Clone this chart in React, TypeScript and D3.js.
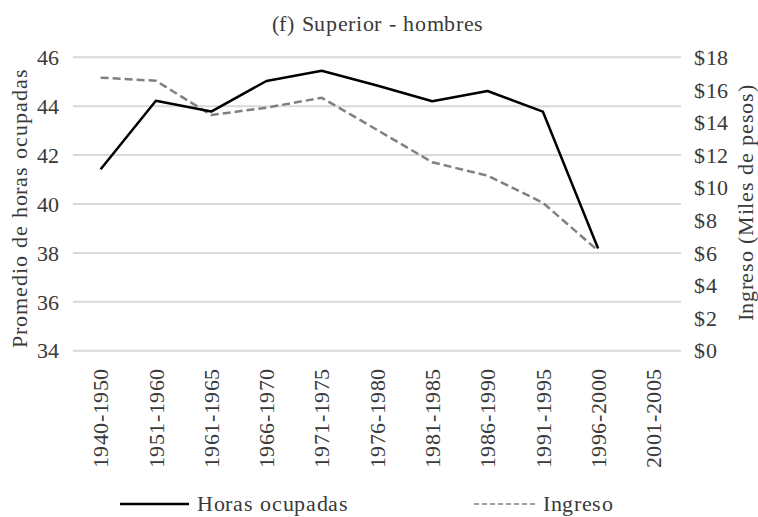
import React from "react";
import * as d3 from "d3";

const categories = [
  "1940-1950", "1951-1960", "1961-1965", "1966-1970", "1971-1975", "1976-1980",
  "1981-1985", "1986-1990", "1991-1995", "1996-2000", "2001-2005",
];
const horas: (number | null)[] = [41.42, 44.22, 43.78, 45.03, 45.45, 44.85, 44.2, 44.62, 43.78, 38.18, null];
const ingreso: (number | null)[] = [16.75, 16.56, 14.46, 14.91, 15.52, 13.55, 11.56, 10.74, 9.08, 6.13, null];
const leftTicks = [34, 36, 38, 40, 42, 44, 46];
const rightTicks = [0, 2, 4, 6, 8, 10, 12, 14, 16, 18];
const title = "(f) Superior - hombres";
const leftTitle = "Promedio de horas ocupadas";
const rightTitle = "Ingreso (Miles de pesos)";
const seriesNames = ["Horas ocupadas", "Ingreso"];

const W = 758;
const H = 517;
const FONT = "RefSerif, 'Liberation Serif', 'DejaVu Serif', 'Times New Roman', serif";
const TXT = "#3a3a3a";
const FS = 22;
const ts: React.CSSProperties = { fontFamily: FONT, fontSize: FS, fill: TXT, letterSpacing: 0.6 };

const fontCss = `@font-face { font-family: RefSerif; src: local("Liberation Serif"), local("LiberationSerif"), local("LiberationSerif-Regular"), local("DejaVu Serif"), local("DejaVuSerif"), local("Noto Serif"), local("NotoSerif-Regular"); }`;

export default function App() {
  const x = d3.scaleBand<string>().domain(categories).range([73, 681]);
  const yL = d3.scaleLinear().domain([34, 46]).range([350.7, 57.3]);
  const yR = d3.scaleLinear().domain([0, 18]).range([350.7, 57.3]);
  const cx = (c: string) => (x(c) ?? 0) + x.bandwidth() / 2;

  const lineL = d3
    .line<number | null>()
    .defined((d) => d != null)
    .x((_, i) => cx(categories[i]))
    .y((d) => yL(d as number));
  const lineR = d3
    .line<number | null>()
    .defined((d) => d != null)
    .x((_, i) => cx(categories[i]))
    .y((d) => yR(d as number));

  return (
    <svg
      width={W}
      height={H}
      style={{ position: "absolute", left: 0, top: 0, background: "#fff" }}
    >
      <style>{fontCss}</style>
      <text x={378} y={31} textAnchor="middle" style={{ ...ts, letterSpacing: 0.7 }}>
        {title}
      </text>
      {leftTicks.map((t) => (
        <g key={"l" + t}>
          <line x1={73} x2={681} y1={yL(t)} y2={yL(t)} stroke="#d9d9d9" strokeWidth={2} />
          <text x={60} y={yL(t)} dy="0.35em" textAnchor="end" style={ts}>
            {t}
          </text>
        </g>
      ))}
      {rightTicks.map((t) => (
        <text key={"r" + t} x={694} y={yR(t)} dy="0.35em" textAnchor="start" style={ts}>
          {"$" + t}
        </text>
      ))}
      {categories.map((c) => (
        <text
          key={c}
          transform={`translate(${cx(c)},368) rotate(-90)`}
          dy="0.35em"
          textAnchor="end"
          style={ts}
        >
          {c}
        </text>
      ))}
      <text transform="translate(19,208) rotate(-90)" dy="0.35em" textAnchor="middle" style={{ ...ts, letterSpacing: 0.95 }}>
        {leftTitle}
      </text>
      <text transform="translate(745,203) rotate(-90)" dy="0.35em" textAnchor="middle" style={{ ...ts, letterSpacing: 0.7 }}>
        {rightTitle}
      </text>
      <path d={lineR(ingreso) ?? ""} fill="none" stroke="#808080" strokeWidth={2.5} strokeDasharray="8,4" />
      <path d={lineL(horas) ?? ""} fill="none" stroke="#000" strokeWidth={2.5} strokeLinejoin="round" />
      <line x1={120} x2={189} y1={504} y2={504} stroke="#000" strokeWidth={2.5} />
      <text x={197} y={504} dy="0.33em" style={{ ...ts, letterSpacing: 0.7 }}>
        {seriesNames[0]}
      </text>
      <line x1={474} x2={538} y1={504} y2={504} stroke="#808080" strokeWidth={1.5} strokeDasharray="5,3" />
      <text x={543} y={504} dy="0.33em" style={{ ...ts, letterSpacing: 0.7 }}>
        {seriesNames[1]}
      </text>
    </svg>
  );
}
